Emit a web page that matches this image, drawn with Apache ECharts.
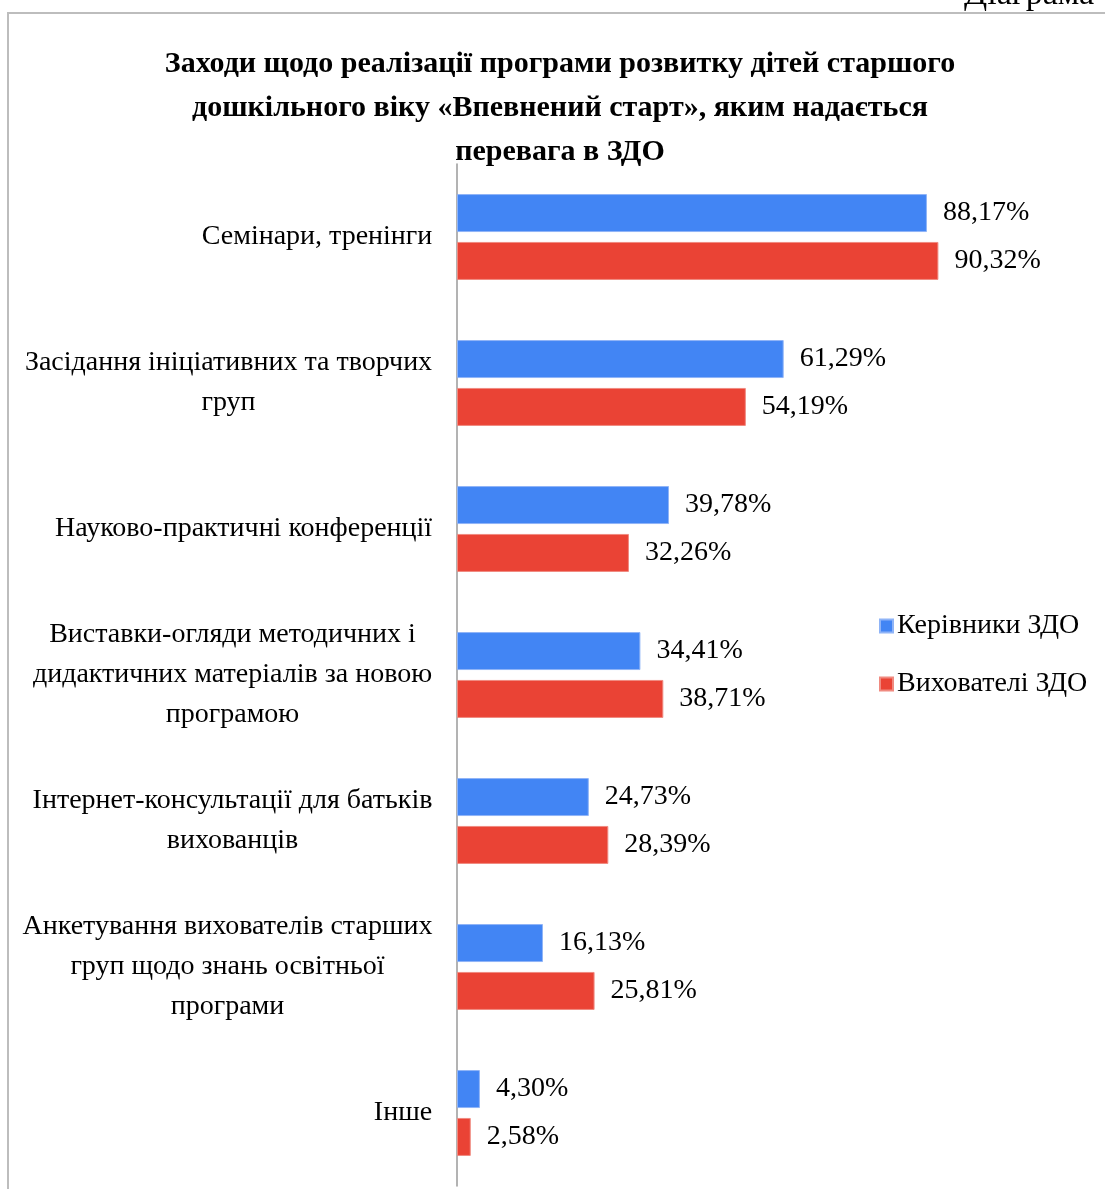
<!DOCTYPE html>
<html><head><meta charset="utf-8">
<style>html,body{margin:0;padding:0;background:#fff}#c{width:1105px;height:1189px}</style>
<script src="https://cdn.jsdelivr.net/npm/echarts@6/dist/echarts.min.js"></script>
</head><body><div id="c"></div>
<script>
var categories = [
  "Семінари, тренінги",
  "Засідання ініціативних та творчих\nгруп",
  "Науково-практичні конференції",
  "Виставки-огляди методичних і\nдидактичних матеріалів за новою\nпрограмою",
  "Інтернет-консультації для батьків\nвихованців",
  "Анкетування вихователів старших\nгруп щодо знань освітньої\nпрограми",
  "Інше"
];
var seriesNames = ["Керівники ЗДО", "Вихователі ЗДО"];
var managers = [88.17, 61.29, 39.78, 34.41, 24.73, 16.13, 4.30];
var teachers = [90.32, 54.19, 32.26, 38.71, 28.39, 25.81, 2.58];
var titleText = "Заходи щодо реалізації програми розвитку дітей старшого\nдошкільного віку «Впевнений старт», яким надається\nперевага в ЗДО";
var cornerText = "Діаграма";

var FONT = "'Liberation Serif','Times New Roman',serif";
var LBL = 28;
var ctx = document.createElement('canvas').getContext('2d');
ctx.font = LBL + "px " + FONT;
var rich = {};
categories.forEach(function(c, i){
  var w = 0;
  c.split('\n').forEach(function(l){ w = Math.max(w, ctx.measureText(l).width); });
  rich['c' + i] = {width: Math.ceil(w) + 1, align: 'center', fontSize: LBL, fontFamily: FONT, color: '#000', lineHeight: 40};
});

var chart = echarts.init(document.getElementById('c'));
function fmt(p){ return p.value.toFixed(2).replace('.', ',') + '%'; }
chart.setOption({
  animation: false,
  backgroundColor: '#fff',
  grid: {left: 457, top: 164, width: 533, height: 1022, containLabel: false},
  xAxis: {type: 'value', min: 0, max: 100, show: false},
  yAxis: {
    type: 'category', data: categories, inverse: true,
    axisLine: {lineStyle: {color: '#9a9a9a', width: 1.5}},
    axisTick: {show: false},
    axisLabel: {
      margin: 24, align: 'right',
      formatter: function(v, i){
        return v.split('\n').map(function(l){ return '{c' + i + '|' + l + '}'; }).join('\n');
      },
      rich: rich
    }
  },
  legend: {
    orient: 'vertical', left: 874, top: 607, itemWidth: 13, itemHeight: 13, itemGap: 30,
    icon: 'rect',
    textStyle: {fontFamily: FONT, fontSize: LBL, color: '#000', padding: [0, 0, 0, -1]},
    data: seriesNames
  },
  series: [
    {name: seriesNames[0], type: 'bar', data: managers, barWidth: 38, barGap: '26%', barCategoryGap: 60,
     itemStyle: {color: '#4285F4', borderColor: '#8fb4f7', borderWidth: 1},
     label: {show: true, position: 'right', distance: 16, formatter: fmt, fontFamily: FONT, fontSize: LBL, color: '#000'}},
    {name: seriesNames[1], type: 'bar', data: teachers, barWidth: 38, barGap: '26%',
     itemStyle: {color: '#EA4335', borderColor: '#f08a80', borderWidth: 1},
     label: {show: true, position: 'right', distance: 16, formatter: fmt, fontFamily: FONT, fontSize: LBL, color: '#000'}}
  ],
  graphic: [
    {type: 'polyline', shape: {points: [[8, 1200], [8, 13], [1110, 13]]}, style: {stroke: '#bdbdbd', lineWidth: 2, fill: null}},
    {type: 'text', x: 964, y: 12, style: {text: cornerText, fontFamily: FONT, fontSize: 34, fill: '#000', textVerticalAlign: 'bottom'}},
    {type: 'text', x: 560, y: 42, style: {text: titleText, fontFamily: FONT, fontWeight: 'bold', fontSize: 30, lineHeight: 44, fill: '#000', textAlign: 'center'}}
  ]
});
</script></body></html>
